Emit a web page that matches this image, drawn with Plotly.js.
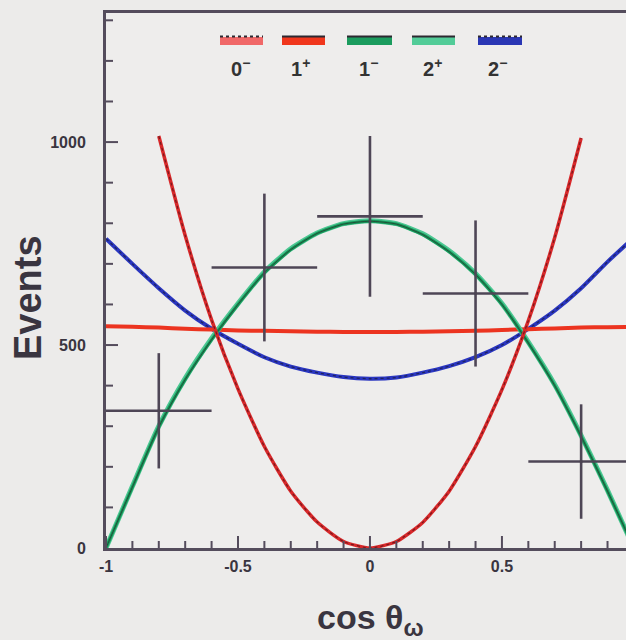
<!DOCTYPE html>
<html>
<head>
<meta charset="utf-8">
<script src="https://cdn.plot.ly/plotly-3.0.1.min.js"></script>
<style>
  html, body { margin: 0; padding: 0; background: #ecebea; }
  #chart { width: 626px; height: 640px; }
</style>
</head>
<body>
<div id="chart"></div>
<script>
// cos(theta_omega) grid for the spin-parity predictions
const cosTheta = [-1.0, -0.9, -0.8, -0.7, -0.6, -0.5, -0.4, -0.3, -0.2, -0.1, 0.0,
                   0.1,  0.2,  0.3,  0.4,  0.5,  0.6,  0.7,  0.8,  0.9, 1.0];

// Predicted event counts for each J^P hypothesis
const spin0m = [null, null, 1015, 770, 562, 392, 250, 140, 64, 16, 0,
                16, 63, 140, 250, 390, 560, 765, 1010, null, null];
const spin1p = [546, 545, 543, 540, 538, 536, 535, 534, 533, 532, 532,
                532, 533, 534, 535, 537, 539, 541, 543, 544, 545];
const spin1m = [0, 150, 298, 415, 513, 600, 678, 735, 775, 798, 805,
                798, 772, 730, 674, 600, 505, 400, 275, 140, 0];
const spin2p = [0, 152, 300, 418, 516, 602, 680, 737, 776, 799, 806,
                799, 774, 732, 676, 602, 507, 402, 277, 142, 0];
const spin2m = [762, 700, 640, 585, 540, 503, 470, 447, 432, 421, 417,
                420, 432, 448, 470, 500, 540, 585, 640, 705, 765];

// Measured events in five bins of cos(theta_omega)
const binCenter = [-0.8, -0.4, 0.0, 0.4, 0.8];
const binHalfWidth = [0.2, 0.2, 0.2, 0.2, 0.2];
const binEvents = [338, 691, 817, 627, 213];
const binError = [142, 182, 198, 180, 141];

// Axis tick labels
const xTickVals = [-1, -0.5, 0, 0.5];
const xTickText = ['-1', '-0.5', '0', '0.5'];
const yTickVals = [0, 500, 1000];
const yTickText = ['0', '500', '1000'];

// Key labels
const keyLabels = ['0<sup>−</sup>', '1<sup>+</sup>', '1<sup>−</sup>', '2<sup>+</sup>', '2<sup>−</sup>'];
const keyColors = ['#f06868', '#f0361c', '#1b9c5e', '#52cc98', '#2a36b4'];
const keyDash = ['dot', 'solid', 'solid', 'solid', 'dot'];

const boldFont = 'Liberation Sans, Arial, sans-serif';
const axisColor = '#544c5c';

const traces = [
  // 2- prediction
  { x: cosTheta, y: spin2m, mode: 'lines', line: { color: '#2a36c0', width: 4, shape: 'spline', smoothing: 0.6 }, hoverinfo: 'skip' },
  { x: cosTheta, y: spin2m, mode: 'lines', line: { color: '#1c1f4a', width: 1.3, dash: 'dot', shape: 'spline', smoothing: 0.6 }, opacity: 0.8, hoverinfo: 'skip' },
  // 1+ prediction
  { x: cosTheta, y: spin1p, mode: 'lines', line: { color: '#ec3420', width: 4, shape: 'spline', smoothing: 0.6 }, hoverinfo: 'skip' },
  // 2+ and 1- predictions
  { x: cosTheta, y: spin2p, mode: 'lines', line: { color: '#4cc893', width: 5, shape: 'spline', smoothing: 0.6 }, hoverinfo: 'skip' },
  { x: cosTheta, y: spin1m, mode: 'lines', line: { color: '#179458', width: 3, shape: 'spline', smoothing: 0.6 }, hoverinfo: 'skip' },
  { x: cosTheta, y: spin1m, mode: 'lines', line: { color: '#23352b', width: 1, shape: 'spline', smoothing: 0.6 }, opacity: 0.7, hoverinfo: 'skip' },
  // 0- prediction
  { x: cosTheta, y: spin0m, mode: 'lines', connectgaps: false, line: { color: '#d8282a', width: 3.5, shape: 'spline', smoothing: 0.6 }, hoverinfo: 'skip' },
  { x: cosTheta, y: spin0m, mode: 'lines', connectgaps: false, line: { color: '#5a1418', width: 1.2, dash: 'dot', shape: 'spline', smoothing: 0.6 }, opacity: 0.75, hoverinfo: 'skip' },
  // data with bin widths and statistical errors
  {
    x: binCenter, y: binEvents, mode: 'markers',
    marker: { size: 3, color: '#4c4452' },
    error_x: { type: 'data', array: binHalfWidth, visible: true, color: '#4e4656', thickness: 2.6, width: 0 },
    error_y: { type: 'data', array: binError, visible: true, color: '#4e4656', thickness: 2.6, width: 0 },
    hoverinfo: 'skip'
  }
];

// Frame geometry used for the key and the tick marks
const plotLeft = 106, plotWidth = 520, plotBottom = 548, plotHeight = 535;
const px = v => (v - plotLeft) / plotWidth;
const py = v => (plotBottom - v) / plotHeight;
const keyX = [[220, 263], [282, 325], [347, 392], [412, 455], [478, 522]];
const keyCenter = [240, 300, 368, 432, 497];

const shapes = [];

// Inward tick marks: long at labelled values, short every 0.1 / every 100 events
for (let k = -10; k <= 9; k++) {
  const v = k / 10;
  const major = k % 5 === 0;
  shapes.push({ type: 'line', xref: 'x', yref: 'paper', x0: v, x1: v, y0: 0, y1: (major ? 12 : 7) / plotHeight,
                line: { color: axisColor, width: 2 } });
}
for (let k = 1; k <= 13; k++) {
  const v = k * 100;
  const major = k % 5 === 0;
  shapes.push({ type: 'line', xref: 'paper', yref: 'y', x0: 0, x1: (major ? 12 : 7) / plotWidth, y0: v, y1: v,
                line: { color: axisColor, width: 2 } });
}

// Key swatches along the top of the frame
keyX.forEach((r, i) => {
  shapes.push({ type: 'line', xref: 'paper', yref: 'paper', x0: px(r[0]), x1: px(r[1]), y0: py(41), y1: py(41),
                line: { color: keyColors[i], width: 8 } });
  shapes.push({ type: 'line', xref: 'paper', yref: 'paper', x0: px(r[0]), x1: px(r[1]), y0: py(36.5), y1: py(36.5),
                line: { color: '#2c2830', width: 2, dash: keyDash[i] } });
});

const annotations = keyLabels.map((t, i) => ({
  text: t, xref: 'paper', yref: 'paper', x: px(keyCenter[i]), y: py(67),
  showarrow: false, xanchor: 'center', yanchor: 'middle',
  font: { family: boldFont, size: 20, color: '#333', weight: 'bold' }
}));
annotations.push({
  text: 'Events', xref: 'paper', yref: 'paper', x: px(28), y: py(298),
  textangle: -90, showarrow: false, xanchor: 'center', yanchor: 'middle',
  font: { family: boldFont, size: 38, color: '#3a3540', weight: 'bold' }
});
annotations.push({
  text: 'cos θ<sub>ω</sub>', xref: 'paper', yref: 'paper', x: px(370), y: py(619),
  showarrow: false, xanchor: 'center', yanchor: 'middle',
  font: { family: boldFont, size: 34, color: '#3a3540', weight: 'bold' }
});

const tickFont = { family: boldFont, size: 16, color: '#3a3540', weight: 'bold' };

const layout = {
  width: 626, height: 640,
  margin: { l: plotLeft, r: 0, t: 13, b: 640 - plotBottom, pad: 0 },
  paper_bgcolor: '#ecebea',
  plot_bgcolor: '#eeedec',
  showlegend: false,
  xaxis: {
    range: [-1, 0.97], showgrid: false, zeroline: false,
    showline: true, linecolor: axisColor, linewidth: 3, mirror: true,
    ticks: '', tickmode: 'array', tickvals: xTickVals, ticktext: xTickText, tickfont: tickFont, ticklabelstandoff: 2
  },
  yaxis: {
    range: [0, 1318], showgrid: false, zeroline: false,
    showline: true, linecolor: axisColor, linewidth: 3,
    ticks: '', tickmode: 'array', tickvals: yTickVals, ticktext: yTickText, tickfont: tickFont, ticklabelstandoff: 14
  },
  shapes: shapes,
  annotations: annotations
};

Plotly.newPlot('chart', traces, layout, { displayModeBar: false, staticPlot: true });
</script>
</body>
</html>
